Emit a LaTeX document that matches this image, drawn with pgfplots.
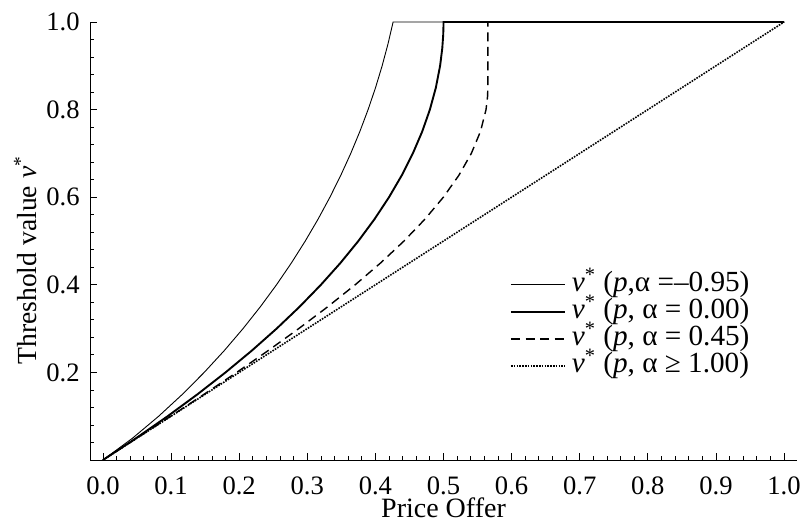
\documentclass[border=0pt]{standalone}
\usepackage{fontspec}
\setmainfont{Liberation Serif}
\usepackage{pgfplots}
\pgfplotsset{compat=1.18}
\newcommand{\tl}[1]{\hbox{\fontsize{13.3pt}{15pt}\selectfont #1}}
\begin{document}
\fontsize{13.3pt}{16pt}\selectfont
\begin{tikzpicture}
\begin{axis}[
  name=ax,
  scale only axis,
  width=353.5pt, height=219pt,
  xmin=-0.019, xmax=1.019, ymin=0, ymax=1,
  axis x line=bottom, axis y line=left,
  axis line style={-, line width=0.5pt},
  clip=false,
  tick align=inside,
  major tick length=3.5pt, minor tick length=2pt,
  tick style={line width=0.4pt, black},
  xtick={0,0.1,0.2,0.3,0.4,0.5,0.6,0.7,0.8,0.9,1.0},
  xticklabels={\tl{0.0},\tl{0.1},\tl{0.2},\tl{0.3},\tl{0.4},\tl{0.5},\tl{0.6},\tl{0.7},\tl{0.8},\tl{0.9},\tl{1.0}},
  ytick={0.2,0.4,0.6,0.8,1.0},
  yticklabels={\tl{0.2},\tl{0.4},\tl{0.6},\tl{0.8},\tl{1.0}},
  minor xtick={0.02,0.04,...,0.99},
  minor ytick={0.04,0.08,...,0.99},
  xticklabel style={inner sep=0pt, anchor=north, yshift=-8.2pt},
  yticklabel style={inner sep=0pt, anchor=east, xshift=-5pt},
  xlabel={Price Offer},
  every axis x label/.style={at={(axis description cs:0.5,-0.132)}, anchor=base, inner sep=0pt, font=\fontsize{14pt}{16pt}\selectfont},
  ylabel={Threshold value \textit{v}\textsuperscript{*}},
  every axis y label/.style={at={(axis description cs:-0.075,0.456)}, rotate=90, anchor=base, inner sep=0pt, font=\fontsize{13.8pt}{16pt}\selectfont},
  legend style={draw=none, fill=none, at={(axis description cs:0.594,0.428)}, anchor=north west,
    inner sep=0pt, outer sep=0pt, row sep=1.2pt, column sep=3pt,
    font=\fontsize{14.6pt}{16pt}\selectfont,
    nodes={inner sep=0pt, text height=9.5pt, text depth=2.8pt}},
  legend cell align=left,
  legend image code/.code={\draw[#1] (0pt,0pt) -- (27pt,0pt);},
]
\addplot[black, line width=0.45pt] coordinates {
(0,0) (0.04358,0.05) (0.08185,0.1) (0.11665,0.15) (0.14866,0.2) (0.17825,0.25) (0.20568,0.3) (0.23115,0.35) (0.25479,0.4) (0.27673,0.45) (0.29706,0.5) (0.31587,0.55) (0.33323,0.6) (0.34920,0.65) (0.36383,0.7) (0.37718,0.75) (0.38928,0.8) (0.40018,0.85) (0.40991,0.9) (0.41850,0.95) (0.426,1.0) (1.0,1.0)};
\addlegendentry{\textit{v}\textsuperscript{*} (\textit{p},α =–0.95)}
\addplot[black, line width=0.95pt] coordinates {
(0,0) (0.04875,0.05) (0.095,0.1) (0.13875,0.15) (0.18,0.2) (0.21875,0.25) (0.255,0.3) (0.28875,0.35) (0.32,0.4) (0.34875,0.45) (0.375,0.5) (0.39875,0.55) (0.42,0.6) (0.43875,0.65) (0.455,0.7) (0.46875,0.75) (0.48,0.8) (0.48875,0.85) (0.495,0.9) (0.4982,0.94) (0.49955,0.97) (0.49995,0.99) (0.5,1.0) (1.0,1.0)};
\addlegendentry{\textit{v}\textsuperscript{*} (\textit{p}, α = 0.00)}
\addplot[black, line width=0.7pt, dash pattern=on 4.5pt off 2.8pt] coordinates {
(0,0) (0.04994,0.05) (0.09954,0.1) (0.14843,0.15) (0.19629,0.2) (0.24275,0.25) (0.28747,0.3) (0.33011,0.35) (0.37030,0.4) (0.40772,0.45) (0.442,0.5) (0.47280,0.55) (0.49978,0.6) (0.52257,0.65) (0.54085,0.7) (0.55425,0.75) (0.56243,0.8) (0.56469,0.83) (0.56505,0.8476) (0.56505,1.0) (1.0,1.0)};
\addlegendentry{\textit{v}\textsuperscript{*} (\textit{p}, α = 0.45)}
\addplot[black, line width=0.8pt, dash pattern=on 0.8pt off 0.6pt] coordinates {(0,0) (1,1)};
\addlegendentry{\textit{v}\textsuperscript{*} (\textit{p}, α ≥ 1.00)}
\end{axis}
\pgfresetboundingbox
\path[use as bounding box] ([xshift=-45pt,yshift=-33pt]ax.south west) rectangle ([xshift=4.5pt,yshift=11pt]ax.north east);
\end{tikzpicture}
\end{document}
